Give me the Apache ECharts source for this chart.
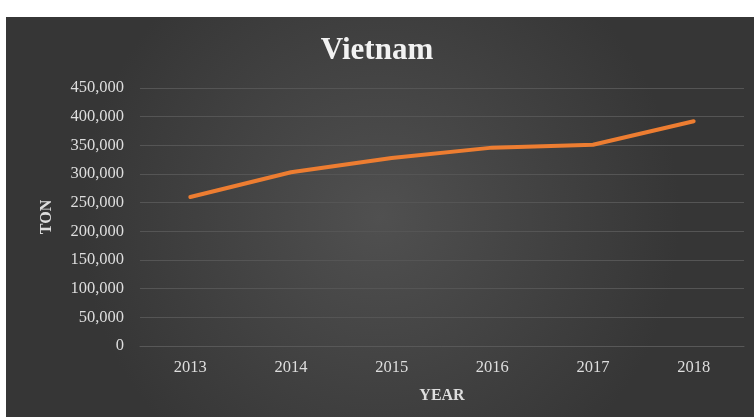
<!DOCTYPE html>
<html>
<head>
<meta charset="utf-8">
<script src="https://cdn.jsdelivr.net/npm/echarts@6/dist/echarts.min.js"></script>
<style>
  html, body { margin: 0; padding: 0; background: #ffffff; }
  #chart { width: 754px; height: 417px; }
</style>
</head>
<body>
<div id="chart"></div>
<script>
// Annual volume for Vietnam, in tons
const years = ['2013', '2014', '2015', '2016', '2017', '2018'];
const tons = [260000, 303000, 328000, 346000, 351000, 392000];
const yTicks = { min: 0, max: 450000, step: 50000 };

const chart = echarts.init(document.getElementById('chart'), null, { renderer: 'canvas' });
const serif = '"Liberation Serif", "DejaVu Serif", serif';
const textColor = '#dedede';

chart.setOption({
  backgroundColor: '#ffffff',
  animation: false,
  graphic: [{
    type: 'rect',
    z: -100,
    silent: true,
    shape: { x: 6, y: 17, width: 748, height: 400 },
    style: {
      fill: new echarts.graphic.RadialGradient(0.5, 0.5, 0.75, [
        { offset: 0, color: '#505050' },
        { offset: 1, color: '#363636' }
      ])
    }
  }],
  title: {
    text: 'Vietnam',
    left: 'center',
    top: 30,
    textStyle: {
      fontFamily: serif,
      fontSize: 31,
      fontWeight: 'bold',
      color: '#f2f2f2'
    }
  },
  grid: { left: 140, right: 10, top: 88, bottom: 71 },
  xAxis: {
    type: 'category',
    data: years,
    boundaryGap: true,
    name: 'YEAR',
    nameLocation: 'middle',
    nameGap: 42,
    nameTextStyle: { fontFamily: serif, fontSize: 16, fontWeight: 'bold', color: textColor },
    axisLine: { show: true, lineStyle: { color: '#585858', width: 1 } },
    axisTick: { show: false },
    axisLabel: { fontFamily: serif, fontSize: 16.5, color: textColor, margin: 13 }
  },
  yAxis: {
    type: 'value',
    min: yTicks.min,
    max: yTicks.max,
    interval: yTicks.step,
    name: 'TON',
    nameLocation: 'middle',
    nameGap: 85,
    nameRotate: 90,
    nameTextStyle: { fontFamily: serif, fontSize: 16, fontWeight: 'bold', color: textColor },
    axisLine: { show: false },
    axisTick: { show: false },
    splitLine: { lineStyle: { color: '#555555', width: 1 } },
    axisLabel: {
      fontFamily: serif,
      fontSize: 16.5,
      color: textColor,
      margin: 16,
      formatter: v => v.toLocaleString('en-US')
    }
  },
  series: [{
    type: 'line',
    data: tons,
    symbol: 'none',
    smooth: false,
    lineStyle: { color: '#ED7D31', width: 4, cap: 'round', join: 'round' }
  }]
});
</script>
</body>
</html>
